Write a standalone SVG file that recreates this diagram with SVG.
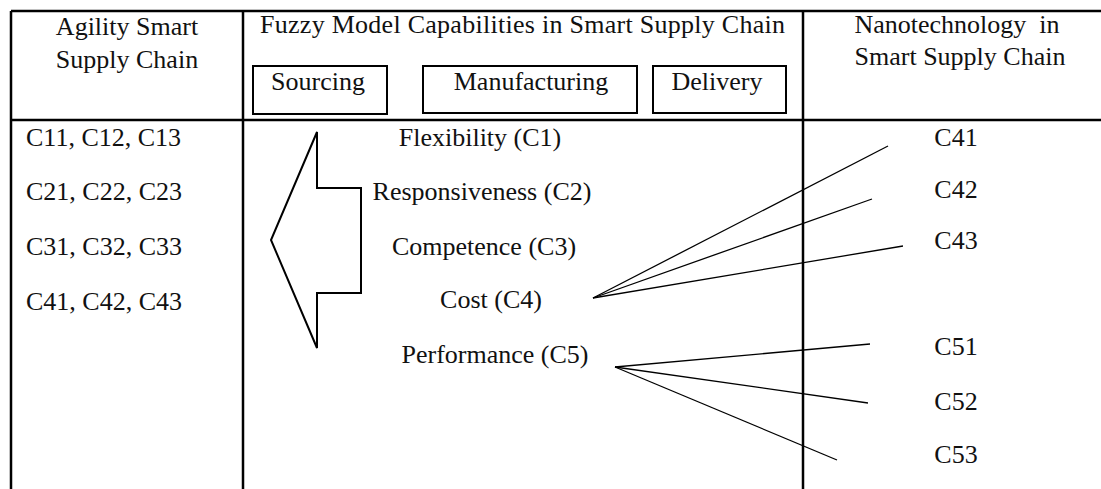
<svg xmlns="http://www.w3.org/2000/svg" width="1101" height="489" viewBox="0 0 1101 489">
  <style>
    .grid { stroke: #000; stroke-width: 2.5; fill: none; }
    .box { stroke: #000; stroke-width: 2; fill: #fff; }
    .link { stroke: #000; stroke-width: 1.3; fill: none; }
    text { font-family: "Liberation Serif", "Times New Roman", serif; font-size: 26px; fill: #111; }
    .c { text-anchor: middle; }
  </style>
  <rect width="1101" height="489" fill="#fff"/>

  <!-- table frame -->
  <g id="table" class="grid">
    <line x1="11" y1="11" x2="1101" y2="11"/>
    <line x1="11" y1="120" x2="1101" y2="120"/>
    <line x1="11" y1="11" x2="11" y2="489"/>
    <line x1="243" y1="11" x2="243" y2="489"/>
    <line x1="803" y1="11" x2="803" y2="489"/>
  </g>

  <!-- column headers -->
  <g id="head-agility">
    <text class="c" x="127" y="35">Agility Smart</text>
    <text class="c" x="127" y="68">Supply Chain</text>
  </g>
  <g id="head-fuzzy">
    <text x="260" y="33" textLength="525" lengthAdjust="spacing">Fuzzy Model Capabilities in Smart Supply Chain</text>
  </g>
  <g id="head-nano">
    <text class="c" x="957" y="33" xml:space="preserve">Nanotechnology  in</text>
    <text class="c" x="960" y="65">Smart Supply Chain</text>
  </g>

  <!-- process boxes -->
  <g id="sourcing">
    <rect class="box" x="253" y="66" width="134" height="48"/>
    <text class="c" x="318" y="90">Sourcing</text>
  </g>
  <g id="manufacturing">
    <rect class="box" x="423" y="66" width="214" height="47"/>
    <text class="c" x="531" y="90">Manufacturing</text>
  </g>
  <g id="delivery">
    <rect class="box" x="653" y="66" width="133" height="47"/>
    <text class="c" x="717" y="90">Delivery</text>
  </g>

  <!-- agility sub-criteria -->
  <g id="agility-rows">
    <text x="26" y="146">C11, C12, C13</text>
    <text x="26" y="200">C21, C22, C23</text>
    <text x="26" y="255">C31, C32, C33</text>
    <text x="26" y="310">C41, C42, C43</text>
  </g>

  <!-- left-pointing block arrow -->
  <g id="arrow">
    <polygon class="box" points="317,132 317,188 361,188 361,293 317,293 317,348 271,240"/>
  </g>

  <!-- capabilities -->
  <g id="flexibility"><text class="c" x="480" y="146">Flexibility (C1)</text></g>
  <g id="responsiveness"><text class="c" x="482" y="200">Responsiveness (C2)</text></g>
  <g id="competence"><text class="c" x="484" y="255">Competence (C3)</text></g>
  <g id="cost"><text class="c" x="491" y="308">Cost (C4)</text></g>
  <g id="performance"><text class="c" x="495" y="363">Performance (C5)</text></g>

  <!-- nanotechnology criteria -->
  <g id="c41"><text class="c" x="956" y="146">C41</text></g>
  <g id="c42"><text class="c" x="956" y="198">C42</text></g>
  <g id="c43"><text class="c" x="956" y="249">C43</text></g>
  <g id="c51"><text class="c" x="956" y="355">C51</text></g>
  <g id="c52"><text class="c" x="956" y="410">C52</text></g>
  <g id="c53"><text class="c" x="956" y="463">C53</text></g>

  <!-- connectors -->
  <g id="connectors" class="link">
    <line x1="593" y1="298" x2="888" y2="146"/>
    <line x1="593" y1="298" x2="872" y2="199"/>
    <line x1="593" y1="298" x2="903" y2="246"/>
    <line x1="615" y1="367" x2="870" y2="344"/>
    <line x1="615" y1="367" x2="868" y2="403"/>
    <line x1="615" y1="367" x2="837" y2="460"/>
  </g>
</svg>
